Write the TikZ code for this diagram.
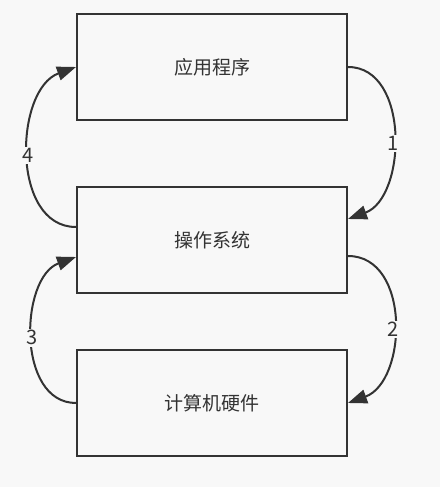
\documentclass[tikz,border=0pt]{standalone}
\usepackage{fontspec}
\setmainfont{Noto Sans CJK SC}
\usetikzlibrary{arrows.meta}
\definecolor{bgcol}{RGB}{248,248,248}
\definecolor{ink}{RGB}{51,51,51}
\tikzset{
    box/.style={draw=ink,line width=2pt,fill=bgcol,minimum width=270pt,minimum height=106pt,inner sep=0pt,text=ink,font=\fontsize{19}{21}\selectfont},
    flow/.style={draw=ink,line width=2pt},
    num/.style={fill=bgcol,text=ink,inner sep=1.5pt,font=\fontsize{20}{22}\selectfont}
}

\begin{document}
\begin{tikzpicture}[x=1pt,y=1pt,>={Triangle[length=19pt,width=14pt,fill=ink]}]
    % draw background
    \fill[bgcol] (0,0) rectangle (440,487);
    \useasboundingbox (0,0) rectangle (440,487);

    % draw boxes
    \node[box] (app) at (212,420) {应用程序};
    \node[box] (os) at (212,247) {操作系统};
    \node[box] (hw) at (212,84) {计算机硬件};

    % draw arrows on the right
    \draw[flow,->] (app.east) to[out=0,in=20,looseness=1.05] node[num,pos=0.54] {1} ([yshift=21pt]os.east);
    \draw[flow,->] ([yshift=-16pt]os.east) to[out=0,in=20,looseness=1.1] node[num,pos=0.54] {2} (hw.east);

    % draw arrows on the left
    \draw[flow,->] (hw.west) to[out=180,in=200,looseness=1.05] node[num,pos=0.5] {3} ([yshift=-17pt]os.west);
    \draw[flow,->] ([yshift=13pt]os.west) to[out=180,in=200,looseness=1.05] node[num,pos=0.5] {4} (app.west);
\end{tikzpicture}
\end{document}
